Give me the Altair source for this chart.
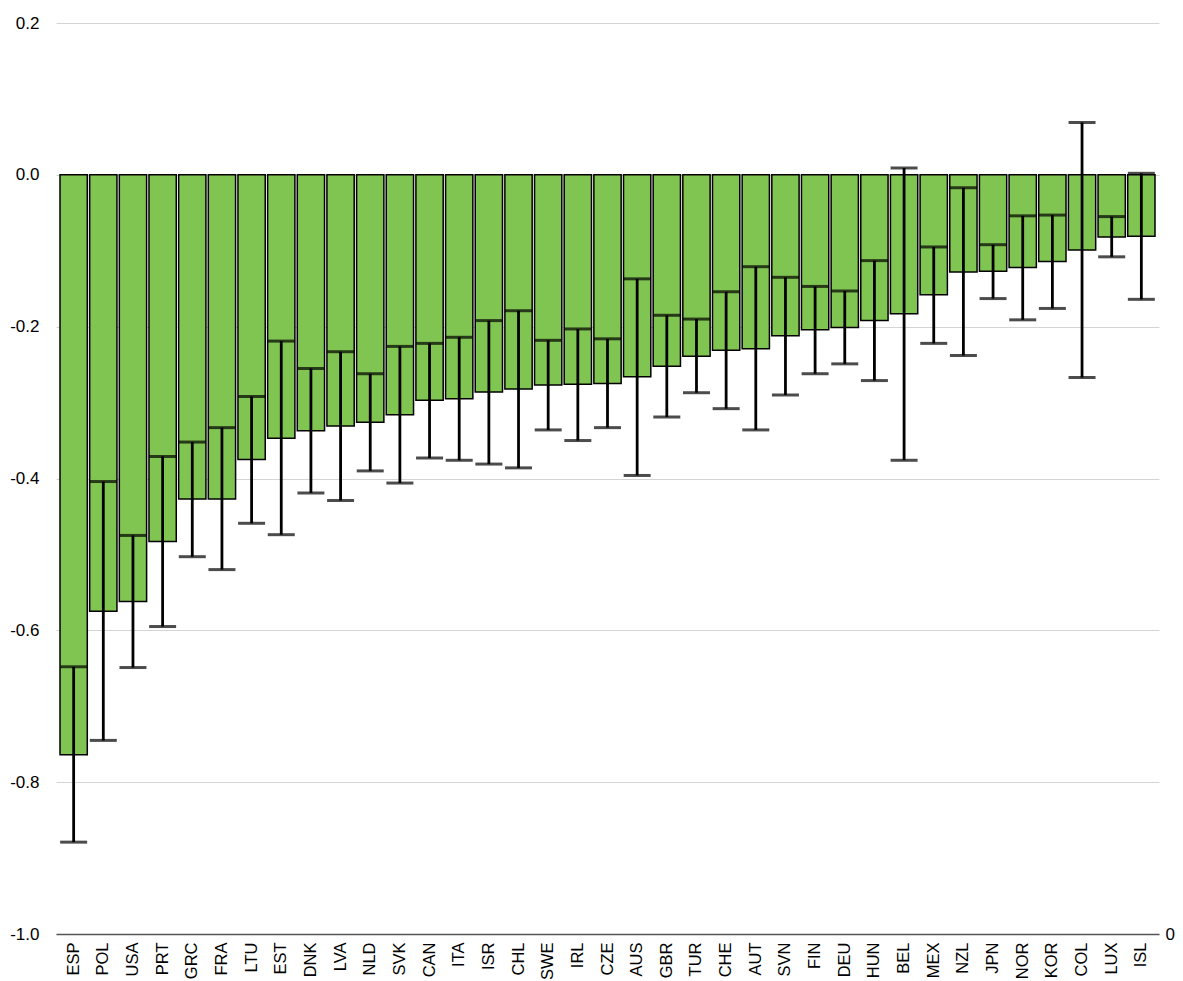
import altair as alt
import pandas as pd

countries = ["ESP", "POL", "USA", "PRT", "GRC", "FRA", "LTU", "EST", "DNK", "LVA",
             "NLD", "SVK", "CAN", "ITA", "ISR", "CHL", "SWE", "IRL", "CZE", "AUS",
             "GBR", "TUR", "CHE", "AUT", "SVN", "FIN", "DEU", "HUN", "BEL", "MEX",
             "NZL", "JPN", "NOR", "KOR", "COL", "LUX", "ISL"]

values = [-0.764, -0.575, -0.562, -0.483, -0.427, -0.427, -0.375, -0.347, -0.337, -0.331,
          -0.326, -0.316, -0.297, -0.295, -0.286, -0.282, -0.277, -0.276, -0.275, -0.266,
          -0.252, -0.239, -0.231, -0.229, -0.212, -0.204, -0.201, -0.192, -0.183, -0.158,
          -0.128, -0.127, -0.122, -0.114, -0.099, -0.082, -0.081]

err_upper = [-0.648, -0.404, -0.475, -0.371, -0.352, -0.333, -0.292, -0.219, -0.255, -0.233,
             -0.262, -0.226, -0.222, -0.214, -0.192, -0.179, -0.218, -0.203, -0.216, -0.137,
             -0.185, -0.190, -0.154, -0.121, -0.135, -0.147, -0.153, -0.113, 0.009, -0.095,
             -0.017, -0.092, -0.054, -0.053, 0.069, -0.055, 0.002]

err_lower = [-0.879, -0.745, -0.649, -0.595, -0.503, -0.520, -0.459, -0.474, -0.419, -0.429,
             -0.390, -0.406, -0.373, -0.376, -0.381, -0.386, -0.336, -0.350, -0.333, -0.396,
             -0.319, -0.287, -0.308, -0.336, -0.290, -0.262, -0.249, -0.271, -0.376, -0.222,
             -0.238, -0.163, -0.191, -0.176, -0.267, -0.108, -0.164]

y_ticks = [-1.0, -0.8, -0.6, -0.4, -0.2, 0.0, 0.2]

df = pd.DataFrame({"country": countries, "value": values,
                   "upper": err_upper, "lower": err_lower})

FONT = "Liberation Sans"
W, H = 1103, 911

x_enc = alt.X("country:N", sort=countries,
              scale=alt.Scale(paddingInner=0.08, paddingOuter=0.135),
              axis=alt.Axis(title=None, labelAngle=-90, ticks=False, labelPadding=8,
                            labelFontSize=16.5, labelFont=FONT, labelColor="#000",
                            domainColor="#555", domainWidth=1.5, grid=False))

y_scale = alt.Scale(domain=[-1.0, 0.2], nice=False, zero=False)

bars = alt.Chart(df).mark_bar(color="#80c452", stroke="#000", strokeWidth=1.5).encode(
    x=x_enc,
    y=alt.Y("value:Q", scale=y_scale,
            axis=alt.Axis(title=None, values=y_ticks, domain=False, ticks=False, tickSize=0,
                          labelPadding=17, labelFontSize=17, labelFont=FONT, labelColor="#000",
                          labelExpr="replace(format(datum.value, '.1f'), '\u2212', '-')",
                          gridColor="#d4d4d4", gridWidth=1)),
    y2=alt.datum(0),
)

err_line = alt.Chart(df).mark_rule(color="#000", strokeWidth=2.8).encode(
    x=alt.X("country:N", sort=countries),
    y=alt.Y("lower:Q", scale=y_scale),
    y2="upper:Q",
)

cap_top = alt.Chart(df).mark_tick(color="#000", thickness=3, size=27).encode(
    x=alt.X("country:N", sort=countries),
    y=alt.Y("upper:Q", scale=y_scale),
)
cap_bot = alt.Chart(df).mark_tick(color="#000", thickness=3, size=27).encode(
    x=alt.X("country:N", sort=countries),
    y=alt.Y("lower:Q", scale=y_scale),
)

main = alt.layer(bars, err_line, cap_top, cap_bot)

right = alt.Chart(pd.DataFrame({"r": [0]})).mark_tick(opacity=0).encode(
    y=alt.Y("r:Q", scale=alt.Scale(domain=[0, 1], nice=False),
            axis=alt.Axis(orient="right", title=None, values=[0], grid=False, domain=False,
                          ticks=False, tickSize=0, labelPadding=6, labelFontSize=17,
                          labelFont=FONT, labelColor="#000", format="d")),
)

chart = alt.layer(main, right).resolve_scale(y="independent").properties(
    width=W, height=H,
    autosize=alt.AutoSizeParams(type="none"),
    padding={"left": 48, "top": 15, "right": 16, "bottom": 46},
    background="#ffffff",
).configure_view(stroke=None)

chart.save("out.html", embed_options={"renderer": "svg", "actions": False})
